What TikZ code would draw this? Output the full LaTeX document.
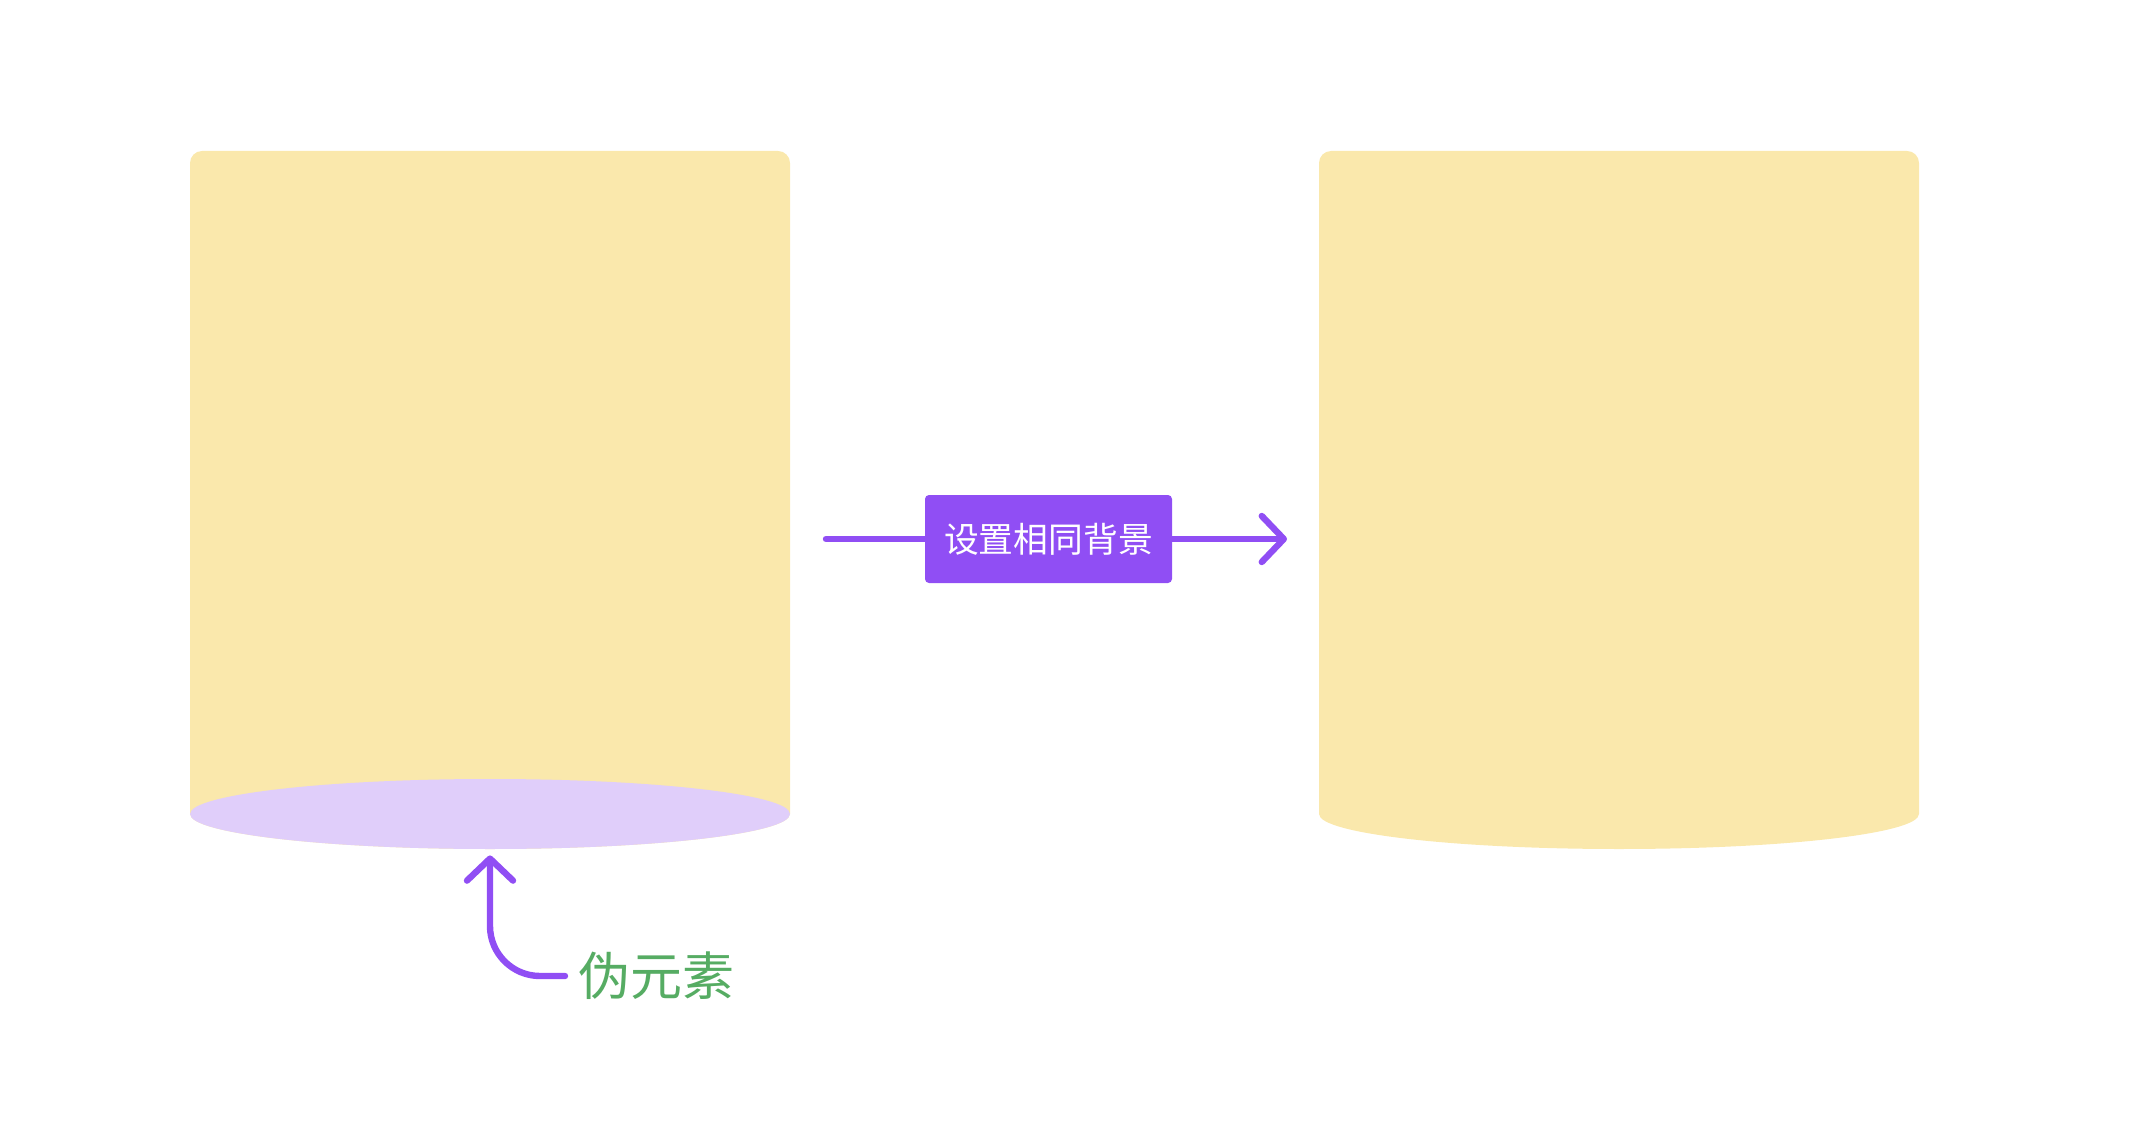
\documentclass[tikz,border=0pt]{standalone}
\usepackage{fontspec}
\newfontfamily\cjk{Noto Sans CJK SC}
\usetikzlibrary{arrows.meta,positioning,shapes.geometric}
\definecolor{boxyellow}{HTML}{FAE8AC}
\definecolor{pseudopurple}{HTML}{E0CEFA}
\definecolor{arrowpurple}{HTML}{904EF4}
\definecolor{notegreen}{HTML}{56AC63}
\begin{document}
\begin{tikzpicture}[x=0.5pt,y=0.5pt,
  arrowline/.style={draw=arrowpurple, line width=3.2pt, line cap=round, line join=round, -{Straight Barb[length=11pt,width=23pt,round]}}]
\useasboundingbox (0,0) rectangle (2136,-1128);

% draw the two boxes
\foreach \x in {190,1319}
{
\fill[boxyellow] (\x,-814) -- (\x,-163) arc[start angle=180, end angle=90, radius=6pt] -- (\x+588,-151) arc[start angle=90, end angle=0, radius=6pt] -- (\x+600,-814) arc[start angle=0, end angle=-180, x radius=150pt, y radius=17.5pt] -- cycle;
}

% draw pseudo element
\node[ellipse, fill=pseudopurple, minimum width=300pt, minimum height=35pt, inner sep=0pt] (pseudo) at (490,-814) {};

% draw label and arrow
\node[fill=arrowpurple, rounded corners=2pt, minimum width=123.5pt, minimum height=44pt, text=white, font=\cjk\fontsize{17.4}{20}\selectfont] (same) at (1048.5,-539) {设置相同背景};
\coordinate (from) at (826,-539);
\coordinate (to) at (1287,-539);
\draw[arrowline, -] (from) -- (same.west);
\draw[arrowline] (same.east) -- (to);

% draw note
\node[text=notegreen, font=\cjk\fontsize{26}{30}\selectfont, anchor=west, inner sep=0pt] (note) at (578,-976) {伪元素};
\draw[arrowline, rounded corners=25pt] ([xshift=-6.5pt]note.west) -| ([yshift=-3pt]pseudo.south);
\end{tikzpicture}
\end{document}
